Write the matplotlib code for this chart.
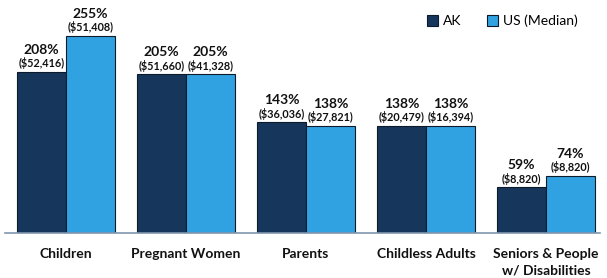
import matplotlib
matplotlib.use("Agg")
import matplotlib.pyplot as plt
import numpy as np
from matplotlib.patches import Patch

plt.rcParams["font.family"] = ["Lato", "DejaVu Sans"]

categories = ["Children", "Pregnant Women", "Parents", "Childless Adults",
              "Seniors & People\nw/ Disabilities"]
ak_pct = [208, 205, 143, 138, 59]
us_pct = [255, 205, 138, 138, 74]
ak_dollars = ["($52,416)", "($51,660)", "($36,036)", "($20,479)", "($8,820)"]
us_dollars = ["($51,408)", "($41,328)", "($27,821)", "($16,394)", "($8,820)"]

AK_COLOR = "#16365C"
US_COLOR = "#31A2E1"

fig = plt.figure(figsize=(6.07, 2.78), dpi=100)
ax = fig.add_axes([5 / 607, 1 - 233 / 278, 595 / 607, 233 / 278])

x = np.arange(len(categories))
w = 0.405
b1 = ax.bar(x - w / 2, ak_pct, w, color=AK_COLOR, edgecolor="#0d1a2a", linewidth=0.8, label="AK")
b2 = ax.bar(x + w / 2, us_pct, w, color=US_COLOR, edgecolor="#0d1a2a", linewidth=0.8, label="US (Median)")

for bars, pcts, dollars in [(b1, ak_pct, ak_dollars), (b2, us_pct, us_dollars)]:
    for bar, p, d in zip(bars, pcts, dollars):
        cx = bar.get_x() + bar.get_width() / 2
        top = bar.get_height()
        ax.annotate(d, (cx, top), xytext=(0, 2), textcoords="offset points",
                    ha="center", va="bottom", fontsize=7.8, fontweight="bold", color="#111111")
        ax.annotate(f"{p}%", (cx, top), xytext=(0, 11.5), textcoords="offset points",
                    ha="center", va="bottom", fontsize=10, fontweight="bold", color="#111111")

ax.set_xlim(-0.508, 4.45)
ax.set_ylim(0, 301)
ax.set_yticks([])
ax.set_xticks(x)
ax.set_xticklabels(categories, fontsize=10, fontweight="bold", color="#111111", linespacing=1.45)
ax.tick_params(axis="x", length=0, pad=11)
for s in ["top", "right", "left"]:
    ax.spines[s].set_visible(False)
ax.spines["bottom"].set_color("#8096AE")
ax.spines["bottom"].set_linewidth(1.2)

handles = [Patch(facecolor=AK_COLOR, edgecolor="#0d1a2a", linewidth=0.8, label="AK"),
           Patch(facecolor=US_COLOR, edgecolor="#0d1a2a", linewidth=0.8, label="US (Median)")]
ax.legend(handles=handles, loc="upper right", bbox_to_anchor=(0.983, 0.99), ncol=2,
          frameon=False, fontsize=10, handlelength=0.75, handleheight=0.75,
          handletextpad=0.35, columnspacing=1.9)

fig.savefig("out.png", dpi=100)
